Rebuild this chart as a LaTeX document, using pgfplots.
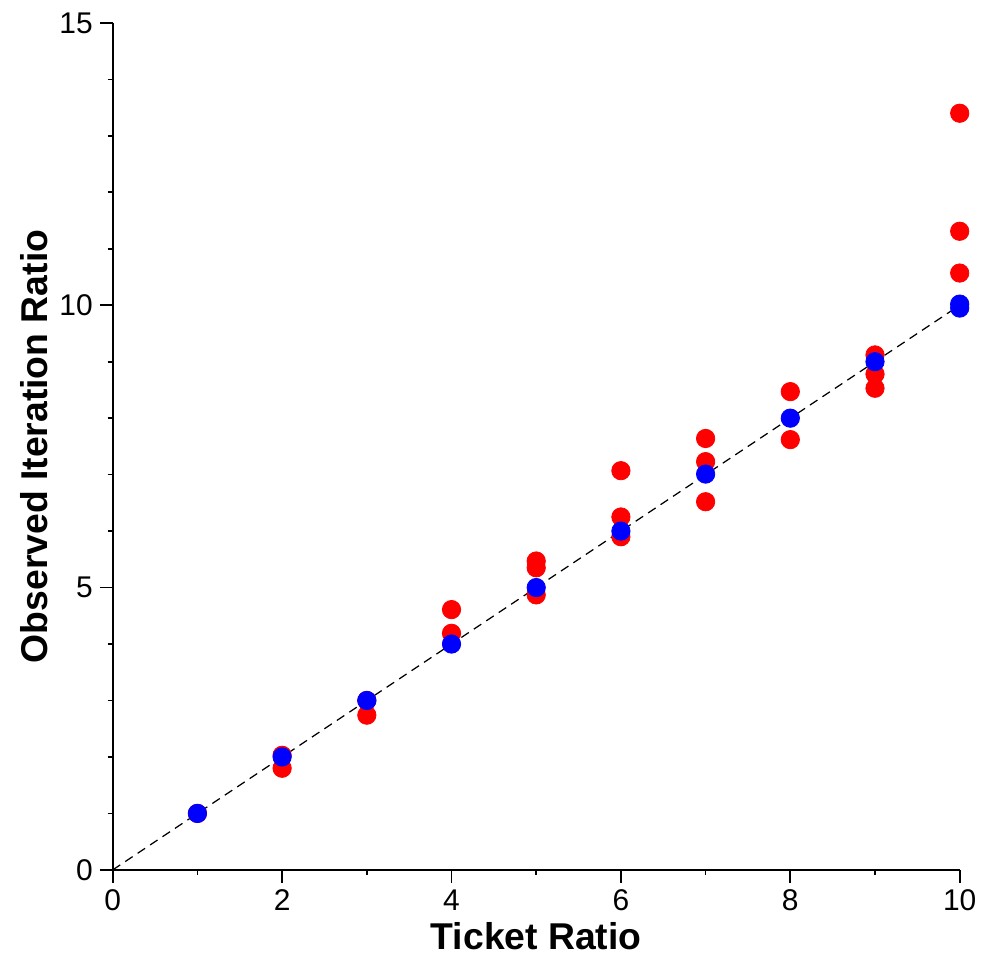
\documentclass[border=0pt]{standalone}
\usepackage{fontspec}
\setmainfont{Liberation Sans}
\usepackage{pgfplots}
\pgfplotsset{compat=1.18}
\begin{document}
\begin{tikzpicture}
\begin{axis}[
  scale only axis,
  width=424.5pt, height=424.5pt,
  xmin=0, xmax=10, ymin=0, ymax=15,
  axis lines*=left,
  axis line style={line width=0.85pt},
  every tick/.style={black, line width=0.85pt},
  tick align=outside,
  major tick length=6.5pt,
  minor tick length=2.5pt,
  xtick={0,2,4,6,8,10},
  ytick={0,5,10,15},
  minor x tick num=1,
  minor y tick num=4,
  /pgf/number format/assume math mode=true,
  tick label style={font=\fontsize{15}{18}\selectfont},
  xlabel={Ticket Ratio},
  ylabel={Observed Iteration Ratio},
  label style={font=\fontsize{18.7}{22}\selectfont\bfseries},
  xlabel style={yshift=1pt},
  ylabel style={yshift=-1pt},
  clip=false,
]
\path (axis cs:-1.331,-1.519) rectangle (axis cs:10.247,15.406);
\addplot[black, line width=0.6pt, dash pattern=on 4.5pt off 3pt] coordinates {(0,0) (10,10)};
\addplot[only marks, mark=*, mark size=4.6pt, color=red, mark options={fill=red, draw=red}] coordinates {
(1,1.0)
(2,2.03) (2,1.80)
(3,3.0) (3,2.74)
(4,4.61) (4,4.19)
(5,5.47) (5,5.35) (5,4.87)
(6,7.07) (6,6.25) (6,5.90)
(7,7.64) (7,7.23) (7,6.52)
(8,8.47) (8,7.62)
(9,9.12) (9,8.78) (9,8.53)
(10,13.40) (10,11.31) (10,10.57)
};
\addplot[only marks, mark=*, mark size=4.6pt, color=blue, mark options={fill=blue, draw=blue}] coordinates {
(1,1.0) (2,2.0) (3,3.0) (4,4.0) (5,5.0) (6,6.0) (7,7.01) (8,8.0) (9,9.0) (10,10.02) (10,9.95)
};
\end{axis}
\end{tikzpicture}
\end{document}
